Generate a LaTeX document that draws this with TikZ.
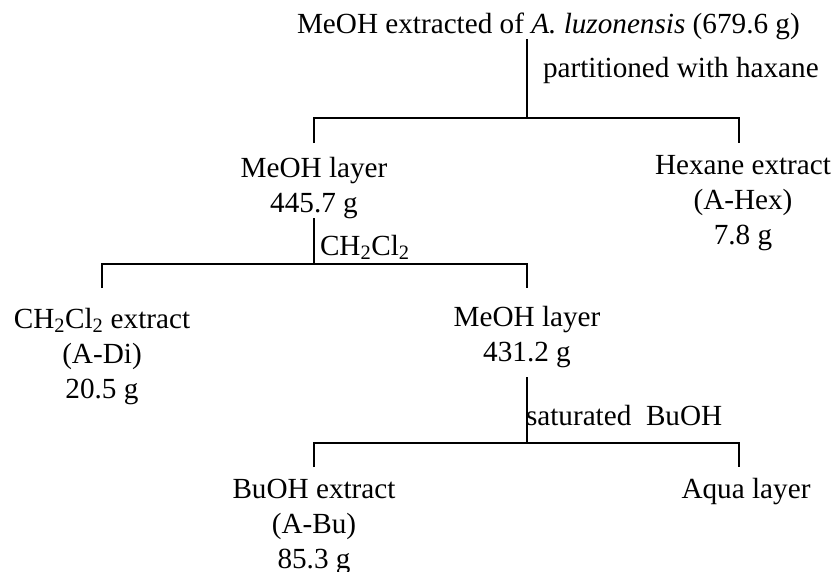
\documentclass[tikz,border=0pt]{standalone}
\usepackage{fontspec}
\setmainfont{Liberation Serif}
\usetikzlibrary{calc}
\newcommand{\stk}[1]{\begin{tabular}[t]{@{}c@{}}#1\end{tabular}}
\begin{document}
\begin{tikzpicture}[x=1pt,y=-1pt,line width=1.6pt,
  every node/.style={inner sep=0pt,outer sep=0pt,font=\fontsize{29.2}{35}\selectfont},
  lbl/.style={anchor=base},
  note/.style={anchor=base west}]
\useasboundingbox (0,0) rectangle (835,571);
% nodes
\node[note] (top) at (297,33) {MeOH extracted of \textit{A. luzonensis} (679.6 g)};
\node[note] (l1) at (543,77) {partitioned with haxane};
\node[lbl] (meoh1) at (314,177) {\stk{MeOH layer\\445.7 g}};
\node[lbl] (hex) at (743,174) {\stk{Hexane extract\\(A-Hex)\\7.8 g}};
\node[note] (l2) at (320,255) {CH\textsubscript{2}Cl\textsubscript{2}};
\node[lbl] (di) at (102,328) {\stk{CH\textsubscript{2}Cl\textsubscript{2} extract\\(A-Di)\\20.5 g}};
\node[lbl] (meoh2) at (527,326) {\stk{MeOH layer\\431.2 g}};
\node[note] (l3) at (526,425) {saturated\ \ BuOH};
\node[lbl] (bu) at (314,498) {\stk{BuOH extract\\(A-Bu)\\85.3 g}};
\node[lbl] (aq) at (746,498) {Aqua layer};
% junctions
\coordinate (j1) at (527,118);
\coordinate (j2) at (314,264);
\coordinate (j3) at (527,443);
\coordinate (e1) at (0,143);
\coordinate (e2) at (0,288);
\coordinate (e3) at (0,467);
\coordinate (s2) at (314,218);
\coordinate (s3) at (527,377);
% connectors
\draw (top.south -| j1) -- (j1);
\draw (meoh1.north |- e1) |- (j1) -| (739,118 |- e1);
\draw (s2) -- (j2);
\draw (di.north |- e2) |- (j2) -| (meoh2.north |- e2);
\draw (s3) -- (j3);
\draw (bu.north |- e3) |- (j3) -| (739,443 |- e3);
\end{tikzpicture}
\end{document}
